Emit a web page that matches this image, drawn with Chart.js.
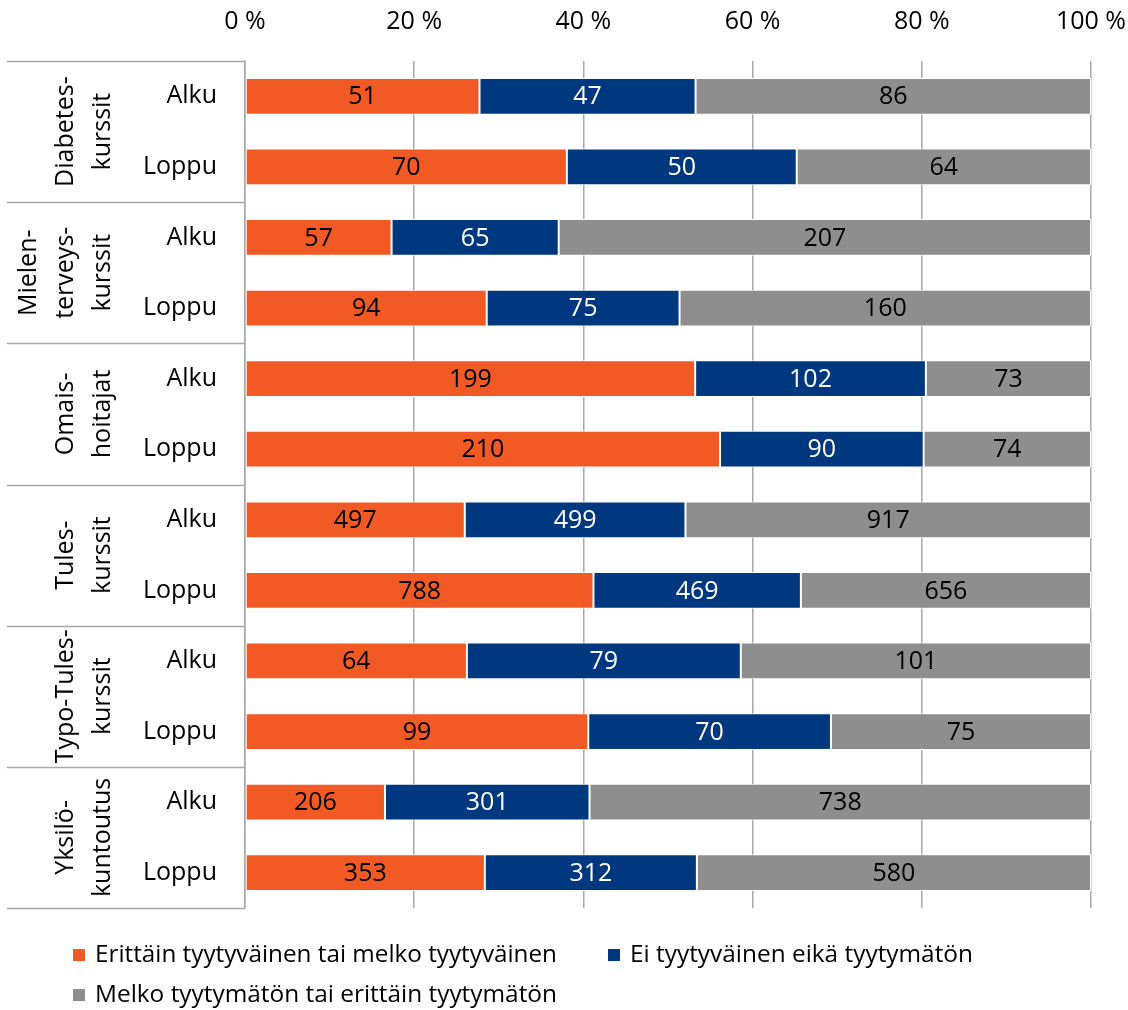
<!DOCTYPE html>
<html>
<head>
<meta charset="utf-8">
<script src="https://cdn.jsdelivr.net/npm/chart.js@4.4.1/dist/chart.umd.min.js"></script>
<style>
html,body{margin:0;padding:0;background:#fff;}
#wrap{width:1128px;height:1010px;}
</style>
</head>
<body>
<div id="wrap"><canvas id="c" width="1128" height="1010"></canvas></div>
<script>
const categories = ['Alku','Loppu','Alku','Loppu','Alku','Loppu','Alku','Loppu','Alku','Loppu','Alku','Loppu'];
const groups = [['Diabetes-','kurssit'],['Mielen-','terveys-','kurssit'],['Omais-','hoitajat'],['Tules-','kurssit'],['Typo-Tules-','kurssit'],['Yksilö-','kuntoutus']];
const seriesNames = ['Erittäin tyytyväinen tai melko tyytyväinen','Ei tyytyväinen eikä tyytymätön','Melko tyytymätön tai erittäin tyytymätön'];
const satisfied    = [51,70,57,94,199,210,497,788,64,99,206,353];
const neutral      = [47,50,65,75,102,90,499,469,79,70,301,312];
const dissatisfied = [86,64,207,160,73,74,917,656,101,75,738,580];
const xTicks = [0,20,40,60,80,100];

const counts = [satisfied, neutral, dissatisfied];
const colors = ['#F15A24','#00387F','#8E8E8E'];
const labelColors = ['#000000','#ffffff','#000000'];
const totals = categories.map((_,i)=>satisfied[i]+neutral[i]+dissatisfied[i]);
const pct = arr => arr.map((v,i)=>v/totals[i]*100);

const FONT = "'Open Sans', 'Noto Sans', sans-serif";
const gridColor = '#a8a8a8';

const overlay = {
  id:'overlay',
  afterDatasetsDraw(chart){
    const ctx = chart.ctx;
    ctx.save();
    ctx.font = '25px ' + FONT;
    ctx.textAlign = 'center';
    ctx.textBaseline = 'middle';
    chart.data.datasets.forEach((ds,di)=>{
      const meta = chart.getDatasetMeta(di);
      meta.data.forEach((el,i)=>{
        ctx.fillStyle = labelColors[di];
        ctx.fillText(String(counts[di][i]), (el.x+el.base)/2, el.y+1);
      });
    });
    ctx.restore();
  },
  afterDraw(chart){
    const ctx = chart.ctx;
    const ca = chart.chartArea;
    const catH = (ca.bottom-ca.top)/categories.length;
    ctx.save();
    ctx.strokeStyle = gridColor;
    ctx.lineWidth = 1.5;
    for(let g=0; g<=groups.length; g++){
      const y = Math.round(ca.top + g*2*catH)+0.5;
      ctx.beginPath(); ctx.moveTo(7,y); ctx.lineTo(ca.left,y); ctx.stroke();
    }
    ctx.fillStyle = '#000';
    ctx.font = '25px ' + FONT;
    ctx.textAlign = 'center';
    ctx.textBaseline = 'alphabetic';
    groups.forEach((lines,g)=>{
      const cy = ca.top + (g*2+1)*catH;
      const n = lines.length;
      lines.forEach((t,k)=>{
        const bx = 110 - (n-1-k)*37;
        ctx.save();
        ctx.translate(bx, cy);
        ctx.rotate(-Math.PI/2);
        ctx.fillText(t, 0, 0);
        ctx.restore();
      });
    });
    const items = [
      {x:73, y:955, w:462},
      {x:608, y:955, w:343},
      {x:73, y:995, w:462}
    ];
    ctx.font = '24.5px ' + FONT;
    ctx.textAlign = 'left';
    ctx.textBaseline = 'middle';
    items.forEach((it,i)=>{
      ctx.fillStyle = colors[i];
      ctx.fillRect(it.x, it.y-6, 12, 12);
      ctx.fillStyle = '#000';
      ctx.fillText(seriesNames[i], it.x+22, it.y, it.w);
    });
    ctx.restore();
  }
};

new Chart(document.getElementById('c'), {
  type:'bar',
  data:{
    labels: categories,
    datasets: seriesNames.map((name,i)=>({
      label:name,
      data:pct(counts[i]),
      backgroundColor:colors[i],
      borderColor:'#ffffff',
      borderWidth:1,
      borderSkipped:false,
      barPercentage:0.52,
      categoryPercentage:1
    }))
  },
  options:{
    indexAxis:'y',
    responsive:false,
    animation:false,
    layout:{padding:{top:8,right:37,bottom:102,left:0}},
    plugins:{legend:{display:false},tooltip:{enabled:false}},
    scales:{
      x:{
        position:'top',
        stacked:true,
        min:0,max:100,
        afterBuildTicks(scale){ scale.ticks = xTicks.map(v=>({value:v})); },
        afterFit(scale){ scale.height = 53; scale.paddingLeft = 0; scale.paddingRight = 0; },
        ticks:{
          callback:v=>v+' %',
          font:{family:FONT,size:25},
          color:'#000',
          padding:24,
          maxRotation:0
        },
        grid:{color:gridColor,lineWidth:1.5,drawTicks:false},
        border:{display:false}
      },
      y:{
        stacked:true,
        afterFit(scale){ scale.width = 245; scale.paddingTop = 0; scale.paddingBottom = 0; },
        ticks:{font:{family:FONT,size:25},color:'#000',padding:28},
        grid:{display:false,drawTicks:false},
        border:{display:true,color:gridColor,width:1.5}
      }
    }
  },
  plugins:[overlay]
});
</script>
</body>
</html>
